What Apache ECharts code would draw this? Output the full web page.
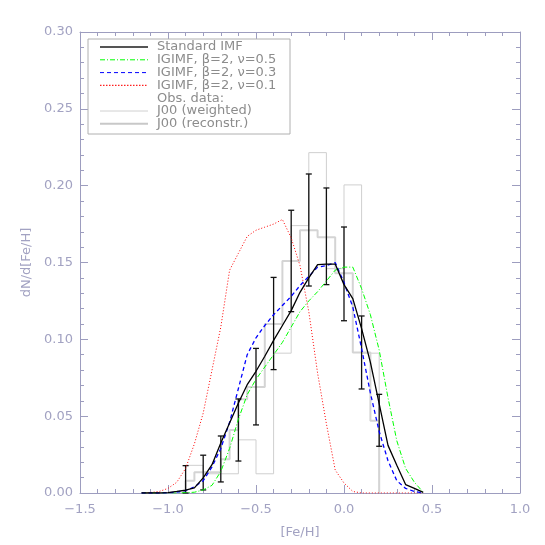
<!DOCTYPE html>
<html>
<head>
<meta charset="utf-8">
<script src="https://cdn.jsdelivr.net/npm/echarts@6/dist/echarts.min.js"></script>
<style>
  html, body { margin: 0; padding: 0; background: #fff; }
  #feh { width: 545px; height: 545px; }
</style>
</head>
<body>
<div id="feh"></div>
<script>
// model curves, sampled every 0.05 dex
var modelX = [-1.15, -1.10, -1.05, -1.00, -0.95, -0.90, -0.85, -0.80, -0.75, -0.70, -0.65,
  -0.60, -0.55, -0.50, -0.45, -0.40, -0.35, -0.30, -0.25, -0.20, -0.15, -0.10, -0.05,
  0.00, 0.05, 0.10, 0.15, 0.20, 0.25, 0.30, 0.35, 0.40, 0.45]
var standardImf = [0, 0, 0, 0.0003, 0.001, 0.0018, 0.0033, 0.0098, 0.0184, 0.0325, 0.0456,
  0.0586, 0.0705, 0.0792, 0.089, 0.0993, 0.109, 0.1187, 0.1306, 0.140, 0.1486, 0.149, 0.149,
  0.1356, 0.1265, 0.107, 0.085, 0.058, 0.031, 0.018, 0.0055, 0.003, 0.0004]
var igimfNu05 = [0, 0, 0, 0, 0, 0.0002, 0.0005, 0.002, 0.005, 0.014, 0.029,
  0.048, 0.064, 0.074, 0.082, 0.090, 0.098, 0.108, 0.118, 0.125, 0.131, 0.138, 0.145,
  0.147, 0.147, 0.133, 0.116, 0.093, 0.062, 0.034, 0.016, 0.007, 0.0005]
var igimfNu03 = [0, 0, 0, 0.0002, 0.0006, 0.0015, 0.004, 0.008, 0.017, 0.029, 0.046,
  0.068, 0.090, 0.101, 0.109, 0.116, 0.122, 0.128, 0.135, 0.141, 0.147, 0.148, 0.150,
  0.137, 0.121, 0.094, 0.065, 0.040, 0.021, 0.008, 0.003, 0.001, 0]
var igimfNu01 = [0, 0.0003, 0.001, 0.003, 0.007, 0.016, 0.032, 0.052, 0.080, 0.108, 0.145,
  0.156, 0.167, 0.171, 0.173, 0.175, 0.178, 0.166, 0.148, 0.118, 0.078, 0.045, 0.015,
  0.0065, 0.001, 0, 0, 0, 0, 0, 0, 0, 0]

// J00 observed histograms
var weightedEdges = [-0.9, -0.8, -0.7, -0.6, -0.5, -0.4, -0.3, -0.2, -0.1, 0.0, 0.1, 0.2]
var weightedHeights = [0.018, 0.0125, 0.0125, 0.0346, 0.0125, 0.091, 0.174, 0.2215, 0.146, 0.2005, 0.091]
var reconEdges = [-0.9, -0.85, -0.8, -0.75, -0.7, -0.65, -0.6, -0.55, -0.5, -0.45, -0.4, -0.35,
  -0.3, -0.25, -0.2, -0.15, -0.1, -0.05, 0.0, 0.05, 0.1, 0.15, 0.2]
var reconHeights = [0.008, 0.0135, 0.0135, 0.0135, 0.022, 0.041, 0.061, 0.069, 0.069, 0.110, 0.110,
  0.151, 0.151, 0.171, 0.171, 0.1665, 0.1665, 0.143, 0.143, 0.0915, 0.0915, 0.047]

// error bars
var errX = [-0.9, -0.8, -0.7, -0.6, -0.5, -0.4, -0.3, -0.2, -0.1, 0.0, 0.1, 0.2]
var errLow = [0.0, 0.002, 0.0072, 0.0208, 0.0443, 0.0803, 0.118, 0.1347, 0.1356, 0.1121, 0.0677, 0.0304]
var errHigh = [0.0178, 0.0246, 0.0371, 0.0612, 0.0941, 0.1403, 0.184, 0.2076, 0.1985, 0.1731, 0.1152, 0.0642]

var legendNames = ['Standard IMF', 'IGIMF, \u03b2=2, \u03bd=0.5', 'IGIMF, \u03b2=2, \u03bd=0.3',
  'IGIMF, \u03b2=2, \u03bd=0.1', 'Obs. data:', 'J00 (weighted)', 'J00 (reconstr.)']

var axisColor = '#9d9dbf'
var textColor = '#a2a2c2'

function pairs (xs, ys) {
  return xs.map(function (x, i) { return [x, ys[i]] })
}

function steps (edges, heights) {
  var pts = [[edges[0], 0]]
  for (var i = 0; i < heights.length; i++) {
    pts.push([edges[i], heights[i]])
    pts.push([edges[i + 1], heights[i]])
  }
  pts.push([edges[edges.length - 1], 0])
  return pts
}

function fmtX (v) {
  return (v < 0 ? '\u2212' : '') + Math.abs(v).toFixed(1)
}

function lineSeries (name, data, color, width, type, z) {
  return {
    name: name,
    type: 'line',
    data: data,
    showSymbol: false,
    symbol: 'none',
    z: z,
    lineStyle: { color: color, width: width, type: type }
  }
}

// legend drawn by hand, IDL style
var legendStyles = [
  { color: '#555', width: 2, dash: null },
  { color: '#00ff00', width: 1, dash: [5, 2, 1, 2] },
  { color: '#0000ff', width: 1, dash: [4, 3] },
  { color: '#ff2020', width: 1.2, dash: [1.5, 1.5] },
  null,
  { color: '#d0d0d0', width: 1, dash: null },
  { color: '#c8c8c8', width: 2, dash: null }
]
var legendItems = [{
  type: 'rect',
  shape: { x: 88, y: 39, width: 202, height: 95 },
  style: { fill: '#fff', stroke: '#b0b0b0', lineWidth: 1 },
  z: 100
}]
legendNames.forEach(function (name, i) {
  var y = 47 + i * 12.8
  var st = legendStyles[i]
  if (st) {
    legendItems.push({
      type: 'line',
      shape: { x1: 100, y1: y, x2: 148, y2: y },
      style: { stroke: st.color, lineWidth: st.width, lineDash: st.dash },
      z: 101
    })
  }
  legendItems.push({
    type: 'text',
    x: 157,
    y: y,
    style: { text: name, fill: '#8c8c8c', font: '13px "DejaVu Sans"', verticalAlign: 'middle' },
    z: 101
  })
})

var chart = echarts.init(document.getElementById('feh'))
var mirrorTicks = {
  axisLine: { show: true, onZero: false, lineStyle: { color: axisColor } },
  axisTick: { show: true, inside: true, length: 8, lineStyle: { color: axisColor } },
  minorTick: { show: true, splitNumber: 5, length: 4, lineStyle: { color: axisColor } },
  splitLine: { show: false }
}
var option = {
  animation: false,
  backgroundColor: '#fff',
  grid: { left: 80, right: 25, top: 32, bottom: 52 },
  xAxis: [
    Object.assign({
      type: 'value', min: -1.5, max: 1.0, interval: 0.5, position: 'bottom',
      name: '[Fe/H]', nameLocation: 'middle', nameGap: 33,
      nameTextStyle: { color: textColor, fontSize: 13, fontFamily: 'DejaVu Sans' },
      axisLabel: { color: textColor, fontSize: 13, fontFamily: 'DejaVu Sans', margin: 10, formatter: fmtX }
    }, mirrorTicks),
    Object.assign({
      type: 'value', min: -1.5, max: 1.0, interval: 0.5, position: 'top',
      axisLabel: { show: false }
    }, mirrorTicks)
  ],
  yAxis: [
    Object.assign({
      type: 'value', min: 0, max: 0.3, interval: 0.05, position: 'left',
      name: 'dN/d[Fe/H]', nameLocation: 'middle', nameGap: 38,
      nameTextStyle: { color: textColor, fontSize: 13, fontFamily: 'DejaVu Sans' },
      axisLabel: { color: textColor, fontSize: 13, fontFamily: 'DejaVu Sans', margin: 7,
        formatter: function (v) { return v.toFixed(2) } }
    }, mirrorTicks),
    Object.assign({
      type: 'value', min: 0, max: 0.3, interval: 0.05, position: 'right',
      axisLabel: { show: false }
    }, mirrorTicks)
  ],
  graphic: legendItems,
  series: [
    lineSeries('J00 (weighted)', steps(weightedEdges, weightedHeights), '#cfcfcf', 1, 'solid', 1),
    lineSeries('J00 (reconstr.)', steps(reconEdges, reconHeights), '#d4d4d4', 2, 'solid', 1),
    {
      name: 'errors',
      type: 'custom',
      z: 3,
      data: errX.map(function (x, i) { return [x, errLow[i], errHigh[i]] }),
      renderItem: function (params, api) {
        var lo = api.coord([api.value(0), api.value(1)])
        var hi = api.coord([api.value(0), api.value(2)])
        var cap = 3
        var st = { stroke: '#111', lineWidth: 1.3 }
        return {
          type: 'group',
          children: [
            { type: 'line', shape: { x1: lo[0], y1: lo[1], x2: hi[0], y2: hi[1] }, style: st },
            { type: 'line', shape: { x1: hi[0] - cap, y1: hi[1], x2: hi[0] + cap, y2: hi[1] }, style: st },
            { type: 'line', shape: { x1: lo[0] - cap, y1: lo[1], x2: lo[0] + cap, y2: lo[1] }, style: st }
          ]
        }
      }
    },
    lineSeries(legendNames[3], pairs(modelX, igimfNu01), '#ff0000', 1, [1, 2], 4),
    lineSeries(legendNames[1], pairs(modelX, igimfNu05), '#00ff00', 1, [5, 2, 1, 2], 5),
    lineSeries(legendNames[2], pairs(modelX, igimfNu03), '#0000ff', 1.3, [4, 3], 6),
    lineSeries(legendNames[0], pairs(modelX, standardImf), '#000000', 1.3, 'solid', 7)
  ]
}
chart.setOption(option, true)
</script>
</body>
</html>
